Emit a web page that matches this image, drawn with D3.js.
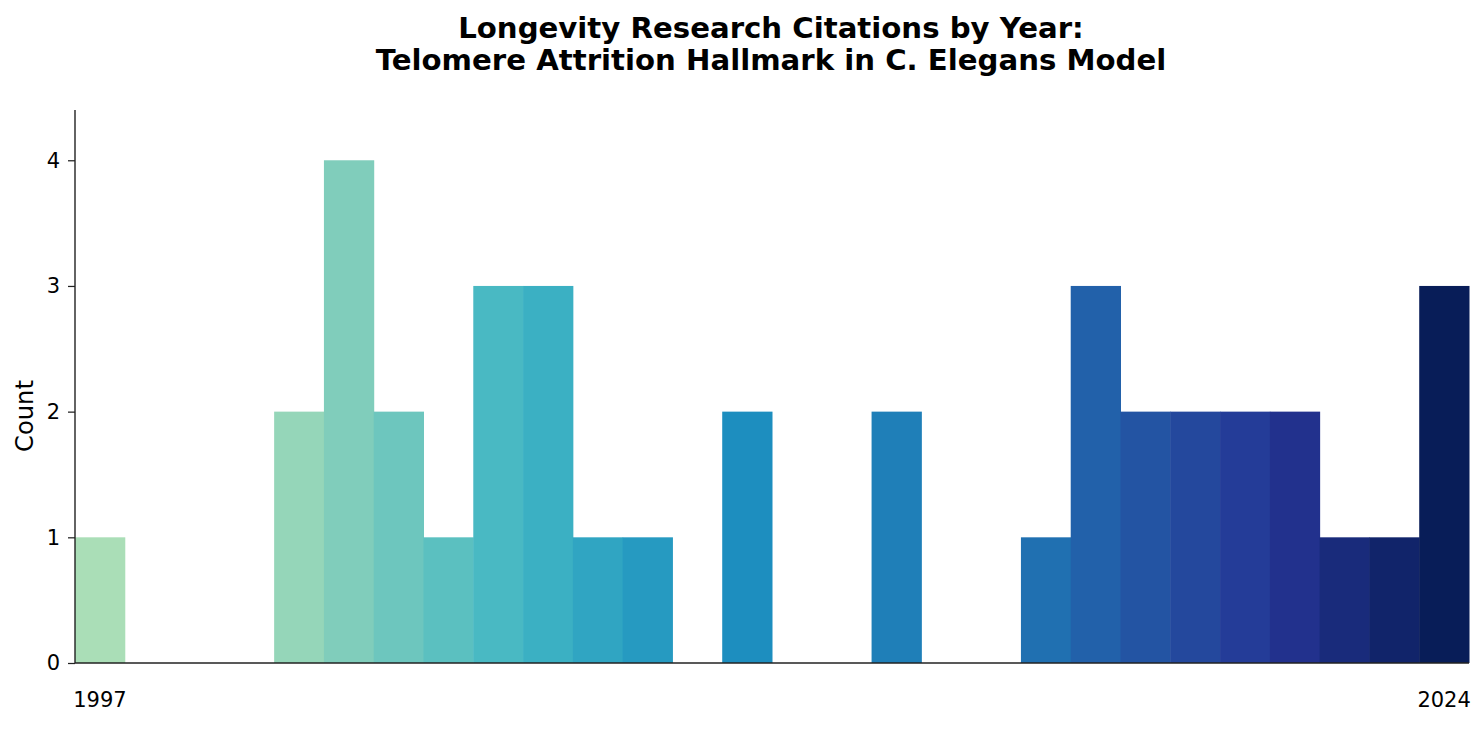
<!DOCTYPE html>
<html>
<head>
<meta charset="utf-8">
<script src="https://cdn.jsdelivr.net/npm/d3@7"></script>
<style>
  body { margin: 0; background: #fff; }
  text { font-family: "DejaVu Sans", sans-serif; }
</style>
</head>
<body>
<svg id="chart" width="1484" height="733"></svg>
<script>
const years = d3.range(1997, 2025);
const counts = [1, 0, 0, 0, 2, 4, 2, 1, 3, 3, 1, 1, 0, 2, 0, 0, 2, 0, 0, 1, 3, 2, 2, 2, 2, 1, 1, 3];
const yTicks = [0, 1, 2, 3, 4];
const xTickLabels = [1997, 2024];
const titleLines = ["Longevity Research Citations by Year:", "Telomere Attrition Hallmark in C. Elegans Model"];
const yLabel = "Count";
// matplotlib YlGnBu colour stops
const cmapStops = ["#ffffd9", "#edf8b1", "#c7e9b4", "#7fcdbb", "#41b6c4", "#1d91c0", "#225ea8", "#253494", "#081d58"];

const svg = d3.select("#chart");
const margin = { left: 75, right: 15, top: 110, bottom: 70 };
const W = 1484, H = 733;
const plotW = W - margin.left - margin.right;
const plotH = H - margin.top - margin.bottom;

const x = d3.scaleBand().domain(years).range([margin.left, margin.left + plotW]).padding(0);
const y = d3.scaleLinear().domain([0, 4.4]).range([margin.top + plotH, margin.top]);

const cmap = d3.piecewise(d3.interpolateRgb, cmapStops);
const data = years.map((yr, i) => ({ year: yr, count: counts[i] })).filter(d => d.count > 0);
const n = data.length;
data.forEach((d, k) => { d.color = cmap(0.3 + 0.7 * k / (n - 1)); });

svg.append("g").selectAll("rect").data(data).join("rect")
  .attr("x", d => x(d.year))
  .attr("y", d => y(d.count))
  .attr("width", x.bandwidth() + 0.5)
  .attr("height", d => y(0) - y(d.count))
  .attr("fill", d => d.color);

// y axis
const yAxis = d3.axisLeft(y).tickValues(yTicks).tickFormat(d3.format("d")).tickSize(7).tickPadding(8);
const gy = svg.append("g").attr("transform", `translate(${margin.left},0)`).call(yAxis);
gy.select(".domain").remove();
gy.selectAll(".tick line").attr("stroke", "#222").attr("stroke-width", 1.25);
gy.selectAll(".tick text").attr("font-size", 21).attr("fill", "#000").attr("font-family", "DejaVu Sans");

// x axis labels
const xAxis = d3.axisBottom(x).tickValues(xTickLabels).tickSize(0).tickPadding(29);
const gx = svg.append("g").attr("transform", `translate(0,${margin.top + plotH})`).call(xAxis);
gx.select(".domain").remove();
gx.selectAll(".tick text").attr("font-size", 21).attr("fill", "#000").attr("font-family", "DejaVu Sans");

// spines
svg.append("line").attr("x1", margin.left).attr("x2", margin.left)
  .attr("y1", margin.top).attr("y2", margin.top + plotH)
  .attr("stroke", "#222").attr("stroke-width", 1.4);
svg.append("line").attr("x1", margin.left).attr("x2", margin.left + plotW)
  .attr("y1", margin.top + plotH).attr("y2", margin.top + plotH)
  .attr("stroke", "#222").attr("stroke-width", 1.4);

// y label
svg.append("text")
  .attr("transform", `translate(33,416) rotate(-90)`)
  .attr("text-anchor", "middle")
  .attr("font-size", 24.2)
  .attr("fill", "#000")
  .text(yLabel);

// title
const title = svg.append("text").attr("text-anchor", "middle").attr("font-weight", "bold")
  .attr("font-size", 29.2).attr("fill", "#000");
titleLines.forEach((t, i) => {
  title.append("tspan").attr("x", 771).attr("y", 38 + i * 32).text(t);
});
</script>
</body>
</html>
